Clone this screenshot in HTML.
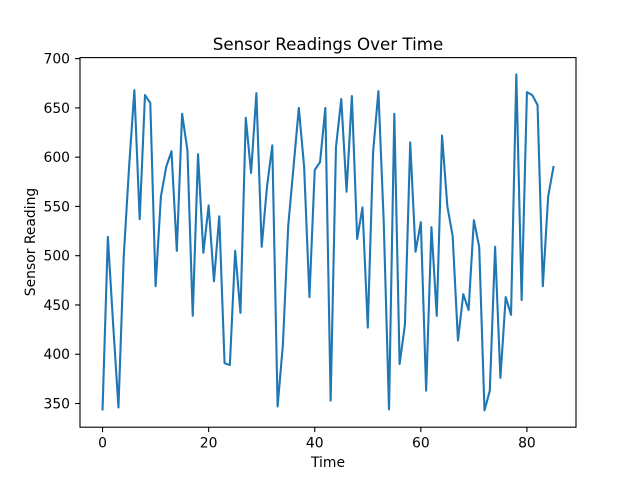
<!DOCTYPE html>
<html><head><meta charset="utf-8"><style>
body{margin:0;background:#fff;}
svg text{font-family:"DejaVu Sans","Liberation Sans",sans-serif;fill:#000;}
</style></head><body>
<svg id="chart" width="640" height="480" xmlns="http://www.w3.org/2000/svg">
<rect width="640" height="480" fill="#fff"/>
<text x="328" y="50" font-size="16.7" text-anchor="middle">Sensor Readings Over Time</text>
<text x="328" y="467" font-size="13.9" text-anchor="middle">Time</text>
<text transform="translate(35,242) rotate(-90)" font-size="13.9" text-anchor="middle">Sensor Reading</text>
<g id="ticks"></g>
<polyline id="line" fill="none" stroke="#1f77b4" stroke-width="2.1" stroke-linejoin="round" stroke-linecap="square"/>
<rect x="80" y="57.6" width="496" height="369.6" fill="none" stroke="#000" stroke-width="1.1"/>
</svg>
<script>
const readings = [344,519,430,346,500,590,668,537,663,655,469,560,590,606,505,644,607,439,603,503,551,474,540,391,389,505,442,640,584,665,509,570,612,347,410,530,590,650,590,458,587,595,650,353,610,659,565,662,517,549,427,605,667,535,344,644,390,430,615,504,534,363,529,439,622,550,520,414,461,445,536,509,343,363,509,376,458,440,684,455,666,663,653,469,560,590];
const xTicks = [0,20,40,60,80];
const yTicks = [350,400,450,500,550,600,650,700];
const L=80,R=576,T=57.6,B=427.2;
const n=readings.length;
const xmin=-0.05*(n-1), xmax=(n-1)*1.05;
const dmin=Math.min(...readings), dmax=Math.max(...readings), pad=0.05*(dmax-dmin);
const ymin=dmin-pad, ymax=dmax+pad;
const sx=v=>L+(v-xmin)/(xmax-xmin)*(R-L);
const sy=v=>B-(v-ymin)/(ymax-ymin)*(B-T);
const line=document.getElementById('line');
line.setAttribute('points', readings.map((v,i)=>sx(i).toFixed(2)+','+sy(v).toFixed(2)).join(' '));
const g=document.getElementById('ticks');
const NS='http://www.w3.org/2000/svg';
xTicks.forEach(t=>{
  const x=sx(t);
  const l=document.createElementNS(NS,'line');
  l.setAttribute('x1',x);l.setAttribute('x2',x);l.setAttribute('y1',B);l.setAttribute('y2',B+4.9);
  l.setAttribute('stroke','#000');l.setAttribute('stroke-width','1.1');
  
  
  g.appendChild(l);
  const tx=document.createElementNS(NS,'text');
  tx.setAttribute('x',x);tx.setAttribute('y',B+20.5);tx.setAttribute('font-size','13.9');tx.setAttribute('text-anchor','middle');
  tx.textContent=t;
  
  
  g.appendChild(tx);
});
yTicks.forEach(t=>{
  const y=sy(t);
  const l=document.createElementNS(NS,'line');
  l.setAttribute('x1',L-4.9);l.setAttribute('x2',L);l.setAttribute('y1',y);l.setAttribute('y2',y);
  l.setAttribute('stroke','#000');l.setAttribute('stroke-width','1.1');
  
  
  g.appendChild(l);
  const tx=document.createElementNS(NS,'text');
  tx.setAttribute('x',L-10);tx.setAttribute('y',y+5);tx.setAttribute('font-size','13.9');tx.setAttribute('text-anchor','end');
  tx.textContent=t;
  
  
  g.appendChild(tx);
});
</script>
</body></html>
